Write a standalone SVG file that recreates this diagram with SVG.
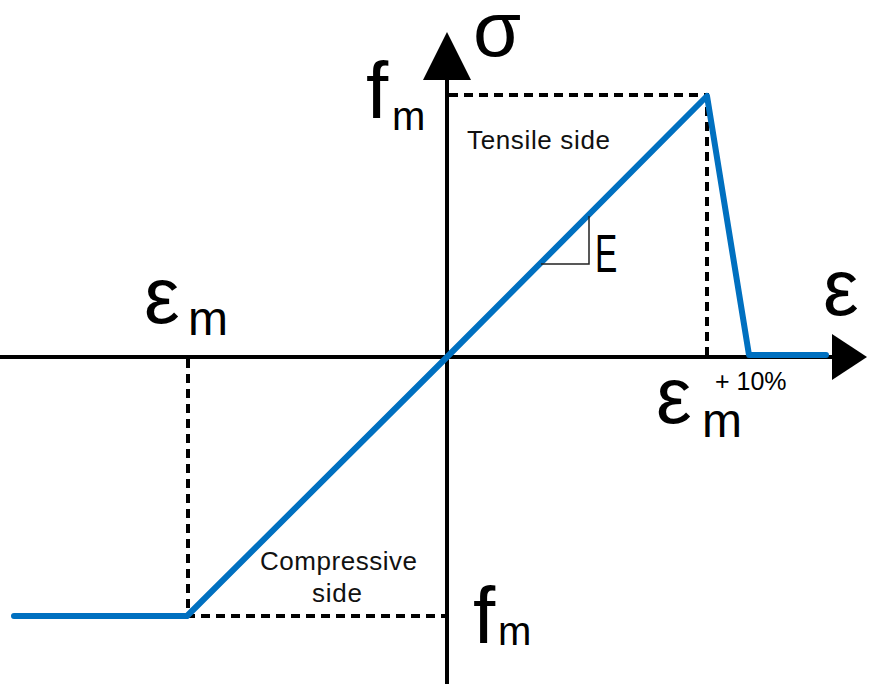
<svg xmlns="http://www.w3.org/2000/svg" width="870" height="684" viewBox="0 0 870 684">
<style>
.axis{stroke:#000;stroke-width:4;fill:none}
.dash{stroke:#000;stroke-width:4;stroke-dasharray:9 6;fill:none}
.curve{stroke:#0070C0;stroke-width:6;fill:none;stroke-linejoin:round;stroke-linecap:round}
.big{font-family:"Liberation Sans",Arial,sans-serif;fill:#000}
.lbl{font-family:"Liberation Sans",Arial,sans-serif;fill:#111;font-size:26px}
</style>
<rect width="870" height="684" fill="#fff"/>
<g id="axes">
  <line class="axis" x1="447" y1="78" x2="447" y2="684"/>
  <polygon points="447,32 423,80 471,80" fill="#000"/>
  <line class="axis" x1="0" y1="357" x2="834" y2="357"/>
  <polygon points="867,357 832,334 832,380" fill="#000"/>
</g>
<g id="guides">
  <polyline class="dash" points="449,95 707,95 707,355"/>
  <polyline class="dash" points="188,359 188,616 445,616"/>
</g>
<g id="curve">
  <polyline class="curve" points="14,616 187,616 447,357 707,96 749,355 826,355"/>
</g>
<g id="slope">
  <polyline points="541,264 589,264 589,216" fill="none" stroke="#222" stroke-width="1.5"/>
  <text class="big" font-size="54" transform="translate(595,272) scale(0.62,1)">E</text>
</g>
<g id="labels">
  <text class="big" x="473" y="56" font-size="78">σ</text>
  <text class="big" x="366" y="118" font-size="80">f</text>
  <text class="big" x="392" y="130" font-size="40">m</text>
  <text class="big" x="473" y="643" font-size="80">f</text>
  <text class="big" x="498" y="645" font-size="40">m</text>
  <text class="big" x="823" y="315" font-size="80">ε</text>
  <text class="big" x="144" y="323" font-size="80">ε</text>
  <text class="big" x="188" y="335" font-size="48">m</text>
  <text class="big" x="656" y="423" font-size="80">ε</text>
  <text class="big" x="702" y="437" font-size="48">m</text>
  <text class="big" x="715" y="390" font-size="25">+ 10%</text>
  <text class="lbl" x="467" y="149" textLength="143" lengthAdjust="spacing">Tensile side</text>
  <text class="lbl" x="260" y="570" textLength="157" lengthAdjust="spacing">Compressive</text>
  <text class="lbl" x="312" y="602" textLength="50" lengthAdjust="spacing">side</text>
</g>
</svg>
